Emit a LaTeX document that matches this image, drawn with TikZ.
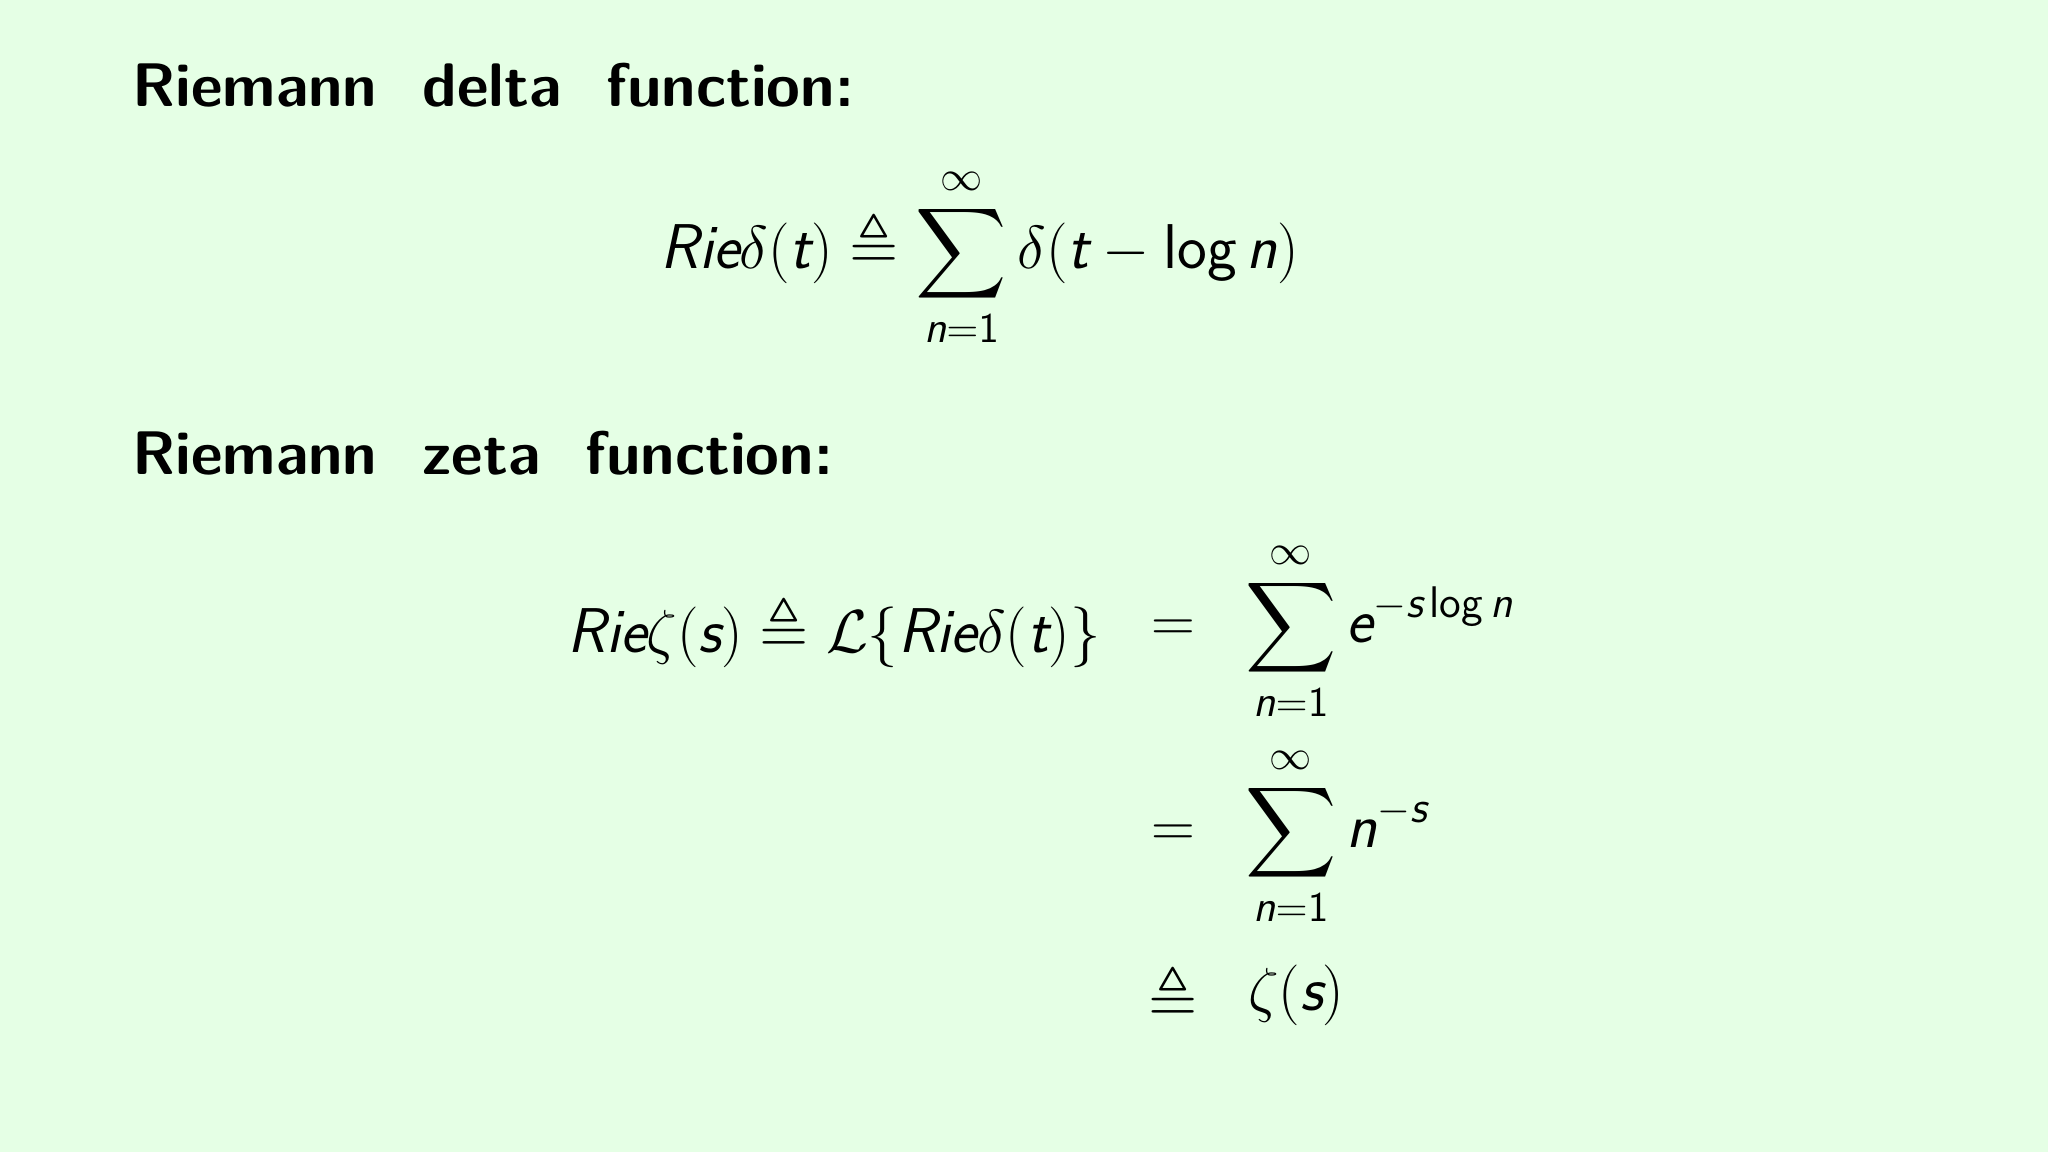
\documentclass[tikz,border=0pt]{standalone}
\usepackage{amsmath, amssymb}
\usetikzlibrary{positioning}
\newcommand{\sv}[1]{\text{\sffamily\itshape #1}}
\newcommand{\slog}{\mathop{\text{\sffamily log}}}
\tikzset{
    heading/.style={anchor=west, font=\fontsize{17.5}{20}\selectfont\sffamily\bfseries},
    formula/.style={inner sep=2pt, font=\fontsize{18}{21}\selectfont},
    rel/.style={formula, anchor=center}
}
\begin{document}
\begin{tikzpicture}
    \fill[green!10!white] (0,0) rectangle (20.48,11.52);
    \useasboundingbox (0,0) rectangle (20.48,11.52);

    \node[heading] (deltahead) at (1.2,10.67) {Riemann\ \ delta\ \ function:};
    \node[formula] (deltaeq) at (9.8,8.95)
        {$\displaystyle \sv{Rie}\delta(\sv{t}) \triangleq \sum_{\sv{n}=\mathsf{1}}^{\infty} \delta(\sv{t}-\slog \sv{n})$};

    \node[heading] (zetahead) at (1.2,6.99) {Riemann\ \ zeta\ \ function:};

    \node[rel] (rel1) at (11.73,5.21) {$=$};
    \node[rel] (rel2) at (11.73,3.16) {$=$};
    \node[rel] (rel3) at (11.73,1.57) {$\triangleq$};

    \node[formula, anchor=east] (lhs) at ([xshift=-0.35cm]rel1.west)
        {$\sv{Rie}\zeta(\sv{s}) \triangleq \mathcal{L}\{\sv{Rie}\delta(\sv{t})\}$};
    \node[formula, anchor=west] (rhs1) at ([xshift=0.35cm]rel1.east)
        {$\displaystyle \sum_{\sv{n}=\mathsf{1}}^{\infty} \sv{e}^{-\sv{s}\slog \sv{n}}$};
    \node[formula, anchor=west] (rhs2) at ([xshift=0.35cm]rel2.east)
        {$\displaystyle \sum_{\sv{n}=\mathsf{1}}^{\infty} \sv{n}^{-\sv{s}}$};
    \node[formula, anchor=west] (rhs3) at ([xshift=0.35cm]rel3.east)
        {$\zeta(\sv{s})$};
\end{tikzpicture}
\end{document}
